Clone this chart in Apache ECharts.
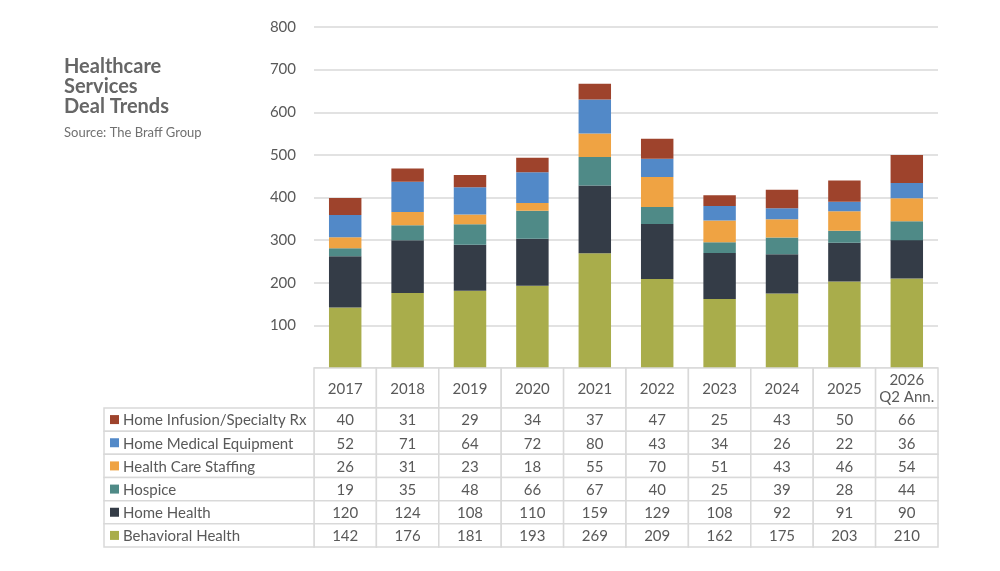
<!DOCTYPE html>
<html>
<head>
<meta charset="utf-8">
<script src="https://cdn.jsdelivr.net/npm/echarts@6/dist/echarts.min.js"></script>
<style>
  html, body { margin: 0; padding: 0; background: #fff; }
  #chart { width: 1000px; height: 571px; }
</style>
</head>
<body>
<div id="chart"></div>
<script>
// categories
var years = ['2017', '2018', '2019', '2020', '2021', '2022', '2023', '2024', '2025', '2026\nQ2 Ann.'];
// series names, top row of the table first
var seriesNames = ['Home Infusion/Specialty Rx', 'Home Medical Equipment', 'Health Care Staffing',
                   'Hospice', 'Home Health', 'Behavioral Health'];
var seriesColors = ['#9e432c', '#5289c8', '#efa343', '#4f8a87', '#343c47', '#a9ad4b'];

var homeInfusion = [40, 31, 29, 34, 37, 47, 25, 43, 50, 66];
var homeMedical  = [52, 71, 64, 72, 80, 43, 34, 26, 22, 36];
var staffing     = [26, 31, 23, 18, 55, 70, 51, 43, 46, 54];
var hospice      = [19, 35, 48, 66, 67, 40, 25, 39, 28, 44];
var homeHealth   = [120, 124, 108, 110, 159, 129, 108, 92, 91, 90];
var behavioral   = [142, 176, 181, 193, 269, 209, 162, 175, 203, 210];

var yTicks = [0, 100, 200, 300, 400, 500, 600, 700, 800];

var rows = [homeInfusion, homeMedical, staffing, hospice, homeHealth, behavioral];

var textColor = '#595959';
var lineColor = '#d9d9d9';
var fontName = 'Lato';

var dom = document.getElementById('chart');
var myChart = echarts.init(dom, null, { renderer: 'canvas' });

// table cells: [col, row, value]
var cellData = [];
for (var r = 0; r < rows.length; r++) {
    for (var c = 0; c < years.length; c++) {
        cellData.push([c, r, rows[r][c]]);
    }
}
var headerData = [];
for (var c = 0; c < years.length; c++) headerData.push([c, 0]);
var nameData = [];
for (var r = 0; r < seriesNames.length; r++) nameData.push([0, r]);

function cellRect(api) {
    var p = api.coord([api.value(0), api.value(1)]);
    var s = api.size([1, 1]);
    return { x: p[0] - s[0] / 2, y: p[1] - s[1] / 2, width: s[0], height: s[1] };
}

function cellGroup(rc, txt) {
    return {
        type: 'group',
        children: [
            { type: 'rect', shape: rc, style: { fill: '#fff', stroke: lineColor, lineWidth: 1.5 } },
            { type: 'text', style: {
                text: txt, x: rc.x + rc.width / 2, y: rc.y + rc.height / 2 + 1,
                align: 'center', verticalAlign: 'middle', fill: textColor,
                font: '15px ' + fontName, lineHeight: 17 } }
        ]
    };
}

function renderCell(params, api) {
    return cellGroup(cellRect(api), String(api.value(2)));
}

function renderHeader(params, api) {
    return cellGroup(cellRect(api), years[params.dataIndex]);
}

function renderName(params, api) {
    var rc = cellRect(api);
    var idx = params.dataIndex;
    return {
        type: 'group',
        children: [
            { type: 'rect', shape: rc, style: { fill: '#fff', stroke: lineColor, lineWidth: 1.5 } },
            { type: 'rect', shape: { x: rc.x + 6, y: rc.y + rc.height / 2 - 4.5, width: 9, height: 9 },
              style: { fill: seriesColors[idx] } },
            { type: 'text', style: {
                text: seriesNames[idx], x: rc.x + 19, y: rc.y + rc.height / 2 + 1,
                align: 'left', verticalAlign: 'middle', fill: textColor, font: '15px ' + fontName } }
        ]
    };
}

var barSeries = [];
for (var i = rows.length - 1; i >= 0; i--) {
    barSeries.push({
        name: seriesNames[i],
        type: 'bar',
        stack: 'deals',
        xAxisIndex: 0,
        yAxisIndex: 0,
        barCategoryGap: '48%',
        itemStyle: { color: seriesColors[i] },
        data: rows[i]
    });
}

var option = {
    backgroundColor: '#fff',
    animation: false,
    textStyle: { fontFamily: fontName },
    title: [
        {
            text: 'Healthcare\nServices\nDeal Trends',
            left: 64, top: 57, padding: 0,
            textStyle: { fontFamily: fontName, fontSize: 20, fontWeight: 'bold', color: '#666', lineHeight: 20 }
        },
        {
            text: 'Source: The Braff Group',
            left: 64, top: 126, padding: 0,
            textStyle: { fontFamily: fontName, fontSize: 13, fontWeight: 'normal', color: '#707070' }
        }
    ],
    grid: [
        { left: 314, right: 62, top: 27, height: 341 },   // bars
        { left: 314, right: 62, top: 368, height: 40 },   // header row
        { left: 314, right: 62, top: 408, height: 139 },  // values
        { left: 104, width: 210, top: 408, height: 139 }  // names
    ],
    xAxis: [
        { type: 'category', gridIndex: 0, data: years, axisLine: { show: false },
          axisTick: { show: false }, axisLabel: { show: false } },
        { type: 'category', gridIndex: 1, data: years, show: false },
        { type: 'category', gridIndex: 2, data: years, show: false },
        { type: 'category', gridIndex: 3, data: ['name'], show: false }
    ],
    yAxis: [
        { type: 'value', gridIndex: 0, min: yTicks[0], max: yTicks[yTicks.length - 1], interval: 100,
          axisLine: { show: false }, axisTick: { show: false },
          axisLabel: { color: textColor, fontSize: 15, fontFamily: fontName, margin: 18,
                       formatter: function (v) { return v === 0 ? '' : v; } },
          splitLine: { lineStyle: { color: lineColor, width: 1.5 } } },
        { type: 'category', gridIndex: 1, data: ['h'], show: false },
        { type: 'category', gridIndex: 2, data: seriesNames, inverse: true, show: false },
        { type: 'category', gridIndex: 3, data: seriesNames, inverse: true, show: false }
    ],
    series: barSeries.concat([
        { type: 'custom', xAxisIndex: 1, yAxisIndex: 1, renderItem: renderHeader, data: headerData, z: 5 },
        { type: 'custom', xAxisIndex: 2, yAxisIndex: 2, renderItem: renderCell, data: cellData, z: 5 },
        { type: 'custom', xAxisIndex: 3, yAxisIndex: 3, renderItem: renderName, data: nameData, z: 5 }
    ])
};

if (option && typeof option === 'object') {
    myChart.setOption(option);
}
</script>
</body>
</html>
